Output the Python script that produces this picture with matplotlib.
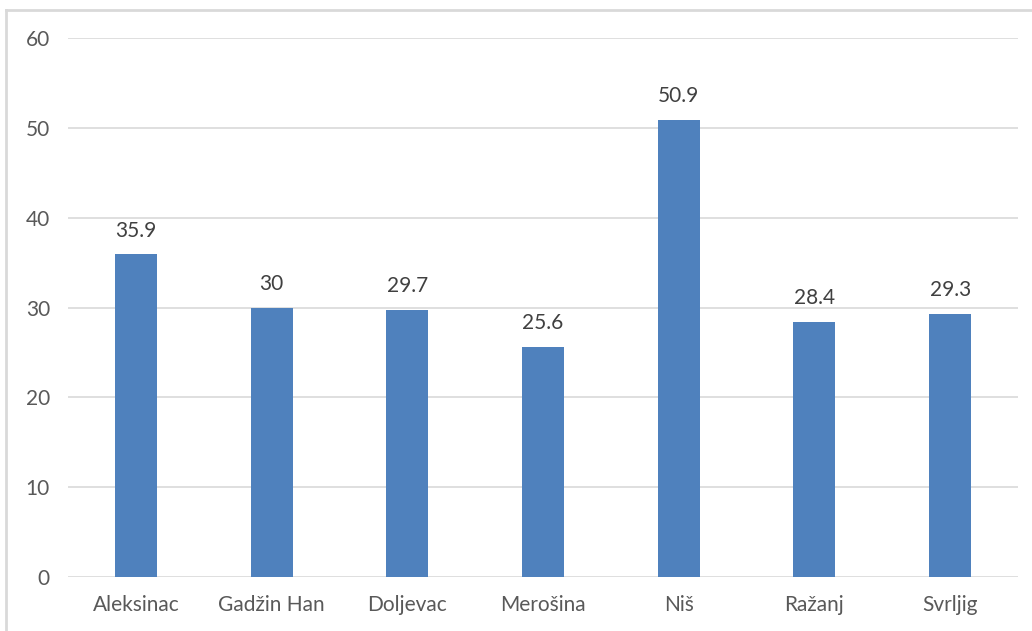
import matplotlib
matplotlib.use("Agg")
import matplotlib.pyplot as plt
from matplotlib.lines import Line2D

categories = ["Aleksinac", "Gadžin Han", "Doljevac", "Merošina", "Niš", "Ražanj", "Svrljig"]
values = [35.9, 30, 29.7, 25.6, 50.9, 28.4, 29.3]
value_labels = ["35.9", "30", "29.7", "25.6", "50.9", "28.4", "29.3"]
y_ticks = [0, 10, 20, 30, 40, 50, 60]

plt.rcParams["font.family"] = ["Lato", "DejaVu Sans"]
text_color = "#595959"
grid_color = "#D9D9D9"
bar_color = "#4F81BD"

fig = plt.figure(figsize=(10.32, 6.31), dpi=100)
ax = fig.add_axes([68 / 1032, 1 - 577 / 631, 950 / 1032, (577 - 38) / 631])

x = range(len(categories))
bars = ax.bar(x, values, width=0.31, color=bar_color, zorder=3)

for i, (v, lab) in enumerate(zip(values, value_labels)):
    ax.annotate(lab, (i, v), xytext=(0, 10), textcoords="offset points",
                ha="center", va="bottom", fontsize=15, color="#404040")

ax.set_xlim(-0.5, len(categories) - 0.5)
ax.set_ylim(0, 60)
ax.set_yticks(y_ticks)
ax.set_yticklabels([str(t) for t in y_ticks])
ax.set_xticks(list(x))
ax.set_xticklabels(categories)
ax.tick_params(axis="both", length=0, labelsize=15, colors=text_color)
ax.tick_params(axis="y", pad=13)
ax.tick_params(axis="x", pad=13)
ax.yaxis.grid(True, color=grid_color, linewidth=1.2, zorder=0)
for s in ax.spines.values():
    s.set_visible(False)

# Outer chart frame (left and top edges)
fig.add_artist(Line2D([5.5 / 1032, 5.5 / 1032], [0, 1 - 10 / 631], transform=fig.transFigure,
                      color="#D9D9D9", linewidth=2))
fig.add_artist(Line2D([5.5 / 1032, 1], [1 - 10 / 631, 1 - 10 / 631], transform=fig.transFigure,
                      color="#D9D9D9", linewidth=2))

fig.savefig("out.png", dpi=100)
